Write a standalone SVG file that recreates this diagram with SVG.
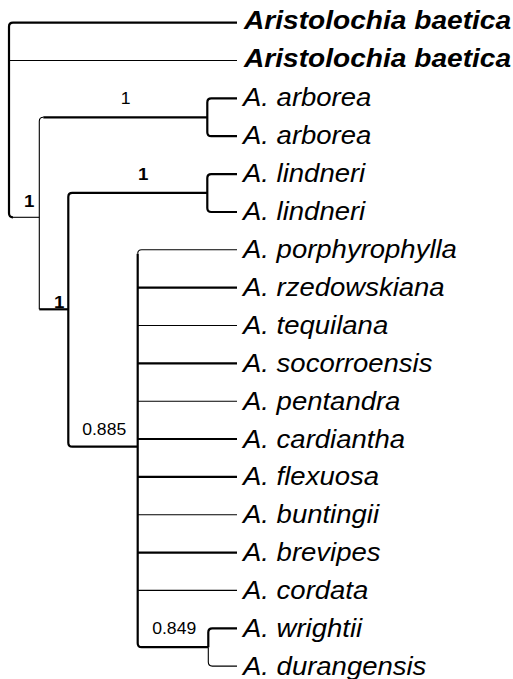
<svg xmlns="http://www.w3.org/2000/svg" width="513" height="679" viewBox="0 0 513 679">
<style>
.thick{fill:none;stroke:#000;stroke-width:2.2}
.thin{fill:none;stroke:#000;stroke-width:1.1}
.sp{font-family:"Liberation Sans",Arial,sans-serif;font-style:italic;font-size:25px;fill:#000}
.spb{font-family:"Liberation Sans",Arial,sans-serif;font-style:italic;font-weight:bold;font-size:25px;fill:#000}
.sup{font-family:"Liberation Sans",Arial,sans-serif;font-size:16px;fill:#000;text-anchor:middle}
.supb{font-family:"Liberation Sans",Arial,sans-serif;font-size:17px;font-weight:bold;fill:#000;text-anchor:middle}
</style>
<rect width="513" height="679" fill="#fff"/>
<g id="connectors">
  <path class="thick" d="M237,22.7 H13 Q9,22.7 9,26.7 V213.3 Q9,217.3 13,217.3"/>
  <path class="thin" d="M13,217.3 H39.3"/>
  <path class="thin" d="M9,60.5 H237"/>
  <path class="thin" d="M39.3,309.3 V121.3 Q39.3,117.3 43.3,117.3"/>
  <path class="thick" d="M43.3,117.3 H207.3"/>
  <path class="thick" d="M39.3,309.3 H68.3"/>
  <path class="thick" d="M237,98.4 H211.3 Q207.3,98.4 207.3,102.4 V132.2 Q207.3,136.2 211.3,136.2 H237"/>
  <path class="thick" d="M207.3,192.9 H72.3 Q68.3,192.9 68.3,196.9 V442.7 Q68.3,446.7 72.3,446.7 H137.7"/>
  <path class="thick" d="M237,174.1 H211.3 Q207.3,174.1 207.3,178.1 V208 Q207.3,212 211.3,212 H237"/>
  <path class="thick" d="M137.7,253.8 V643.2 Q137.7,647.2 141.7,647.2 H208.3"/>
  <path class="thin" d="M237,249.8 H141.7 Q137.7,249.8 137.7,253.8"/>
  <path class="thick" d="M137.7,287.6 H237"/>
  <path class="thin" d="M137.7,325.5 H237"/>
  <path class="thick" d="M137.7,363.4 H237"/>
  <path class="thin" d="M137.7,401.2 H237"/>
  <path class="thick" d="M137.7,439 H237"/>
  <path class="thick" d="M137.7,476.9 H237"/>
  <path class="thin" d="M137.7,514.8 H237"/>
  <path class="thick" d="M137.7,552.6 H237"/>
  <path class="thin" d="M137.7,590.4 H237"/>
  <path class="thick" d="M237,628.3 H212.3 Q208.3,628.3 208.3,632.3 V647.2"/>
  <path class="thin" d="M208.3,647.2 V662.1 Q208.3,666.1 212.3,666.1 H237"/>
</g>
<g id="support-labels">
  <text class="supb" transform="translate(29.3,207) scale(1.1,1)">1</text>
  <text class="sup" transform="translate(125.7,104.3) scale(1.1,1)">1</text>
  <text class="supb" transform="translate(143.3,180) scale(1.1,1)">1</text>
  <text class="supb" transform="translate(59.2,308) scale(1.1,1)">1</text>
  <text class="sup" transform="translate(104.2,435) scale(1.1,1)">0.885</text>
  <text class="sup" transform="translate(174.2,634) scale(1.1,1)">0.849</text>
</g>
<g id="n-baetica1"><text class="spb" transform="translate(244,28.7) scale(1.125,1)">Aristolochia baetica</text></g>
<g id="n-baetica2"><text class="spb" transform="translate(244,66.5) scale(1.125,1)">Aristolochia baetica</text></g>
<g id="n-arborea1"><text class="sp" transform="translate(243,106.4) scale(1.1,1)">A. arborea</text></g>
<g id="n-arborea2"><text class="sp" transform="translate(243,144.2) scale(1.1,1)">A. arborea</text></g>
<g id="n-lindneri1"><text class="sp" transform="translate(243,182.1) scale(1.1,1)">A. lindneri</text></g>
<g id="n-lindneri2"><text class="sp" transform="translate(243,220) scale(1.1,1)">A. lindneri</text></g>
<g id="n-porphyrophylla"><text class="sp" transform="translate(243,258.3) scale(1.1,1)">A. porphyrophylla</text></g>
<g id="n-rzedowskiana"><text class="sp" transform="translate(243,296.1) scale(1.1,1)">A. rzedowskiana</text></g>
<g id="n-tequilana"><text class="sp" transform="translate(243,334) scale(1.1,1)">A. tequilana</text></g>
<g id="n-socorroensis"><text class="sp" transform="translate(243,371.9) scale(1.1,1)">A. socorroensis</text></g>
<g id="n-pentandra"><text class="sp" transform="translate(243,409.7) scale(1.1,1)">A. pentandra</text></g>
<g id="n-cardiantha"><text class="sp" transform="translate(243,447.5) scale(1.1,1)">A. cardiantha</text></g>
<g id="n-flexuosa"><text class="sp" transform="translate(243,485.4) scale(1.1,1)">A. flexuosa</text></g>
<g id="n-buntingii"><text class="sp" transform="translate(243,523.3) scale(1.1,1)">A. buntingii</text></g>
<g id="n-brevipes"><text class="sp" transform="translate(243,561.1) scale(1.1,1)">A. brevipes</text></g>
<g id="n-cordata"><text class="sp" transform="translate(243,598.9) scale(1.1,1)">A. cordata</text></g>
<g id="n-wrightii"><text class="sp" transform="translate(243,636.8) scale(1.1,1)">A. wrightii</text></g>
<g id="n-durangensis"><text class="sp" transform="translate(243,674.6) scale(1.1,1)">A. durangensis</text></g>
</svg>
